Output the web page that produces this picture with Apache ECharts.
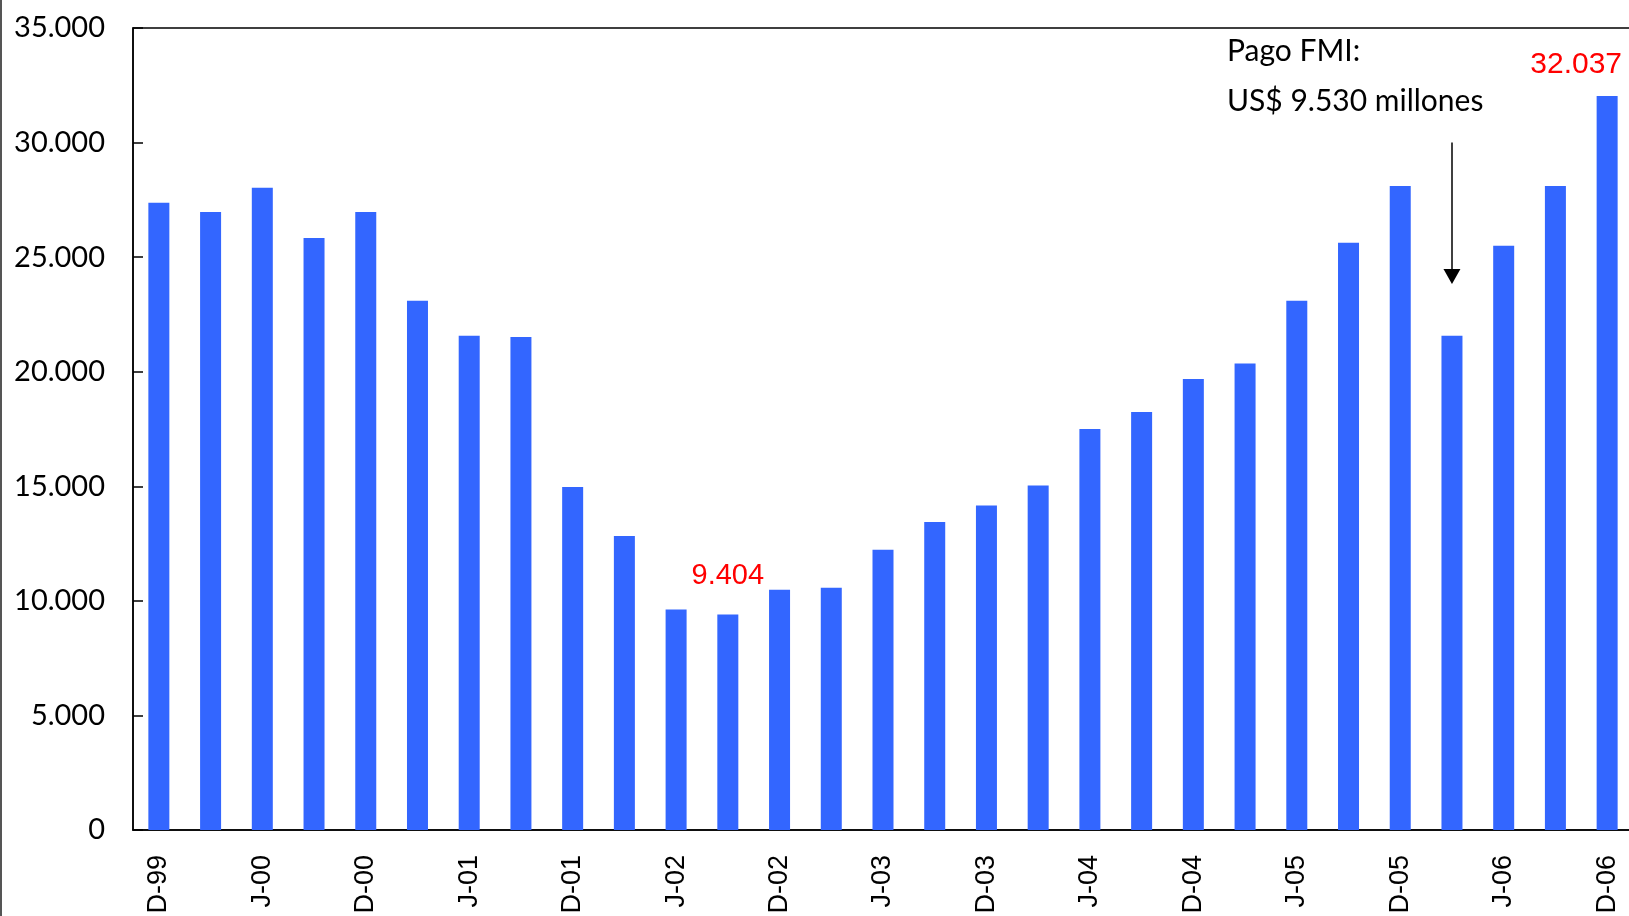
<!DOCTYPE html>
<html>
<head>
<meta charset="utf-8">
<script src="https://cdn.jsdelivr.net/npm/echarts@6/dist/echarts.min.js"></script>
<style>
	html, body { margin: 0; padding: 0; background: #fff; }
	#reservas { width: 1629px; height: 916px; }
</style>
</head>
<body>
<div id="reservas"></div>
<script>
	// trimestres D-99 .. D-06
	var quarters = ['D-99','M-00','J-00','S-00','D-00','M-01','J-01','S-01','D-01',
		'M-02','J-02','S-02','D-02','M-03','J-03','S-03','D-03','M-04','J-04','S-04',
		'D-04','M-05','J-05','S-05','D-05','M-06','J-06','S-06','D-06'];
	// reservas, millones de US$
	var reserves = [27370, 26970, 28030, 25840, 26970, 23100, 21570, 21520, 14970,
		12830, 9620, 9404, 10490, 10570, 12230, 13440, 14160, 15030, 17500, 18240,
		19680, 20360, 23100, 25630, 28110, 21570, 25500, 28110, 32037];
	var yTicks = [0, 5000, 10000, 15000, 20000, 25000, 30000, 35000];
	var redLabels = ['S-02', 'D-06'];
	var pagoFMI = 'M-06';
	var arrowFrom = 30000, arrowTo = 24150;

	function miles(v) {
		return String(v).replace(/\B(?=(\d{3})+(?!\d))/g, '.');
	}

	var barData = reserves.map(function (v, i) {
		var item = { value: v };
		if (redLabels.indexOf(quarters[i]) >= 0) {
			var last = i === quarters.length - 1;
			item.label = {
				show: true, position: 'top', color: '#ff0000',
				fontFamily: 'Liberation Sans', fontSize: last ? 30 : 29,
				distance: last ? 16 : 24,
				offset: last ? [-31, 0] : [0, 0],
				formatter: function (p) { return miles(p.value); }
			};
		}
		return item;
	});

	var chart = echarts.init(document.getElementById('reservas'));
	chart.setOption({
		animation: false,
		grid: {
			left: 133, top: 28, bottom: 86, width: 1500, outerBoundsMode: 'none',
			show: true, borderColor: '#000', borderWidth: 1.5
		},
		xAxis: {
			type: 'category',
			data: quarters,
			axisLine: { lineStyle: { color: '#000', width: 1.5 } },
			axisTick: { show: false },
			axisLabel: { interval: 1, rotate: 90, margin: 25, color: '#000', fontFamily: 'Liberation Sans', fontSize: 27 }
		},
		yAxis: {
			type: 'value',
			min: yTicks[0],
			max: yTicks[yTicks.length - 1],
			interval: yTicks[1] - yTicks[0],
			splitLine: { show: false },
			axisLine: { show: true, lineStyle: { color: '#000', width: 1.5 } },
			axisTick: { show: true, inside: true, length: 10, lineStyle: { color: '#000', width: 1.5 } },
			axisLabel: { margin: 28, color: '#000', fontFamily: 'Lato', fontSize: 29, formatter: miles }
		},
		series: [{
			type: 'bar',
			data: barData,
			barWidth: 21,
			itemStyle: { color: '#3366ff' },
			silent: true,
			markLine: {
				silent: true,
				symbol: ['none', 'triangle'],
				symbolSize: [17, 15],
				label: { show: false },
				lineStyle: { color: '#000', width: 1.5, type: 'solid' },
				data: [[{ coord: [pagoFMI, arrowFrom] }, { coord: [pagoFMI, arrowTo] }]]
			}
		}],
		graphic: [
			{ type: 'rect', left: 0, top: 0, shape: { width: 2, height: 916 }, style: { fill: '#555' } },
			{ type: 'text', left: 1227, top: 36, style: { text: 'Pago FMI:', fill: '#000', font: '30px Lato' } },
			{ type: 'text', left: 1227, top: 86, style: { text: 'US$ 9.530 millones', fill: '#000', font: '30px Lato' } }
		]
	});
</script>
</body>
</html>
